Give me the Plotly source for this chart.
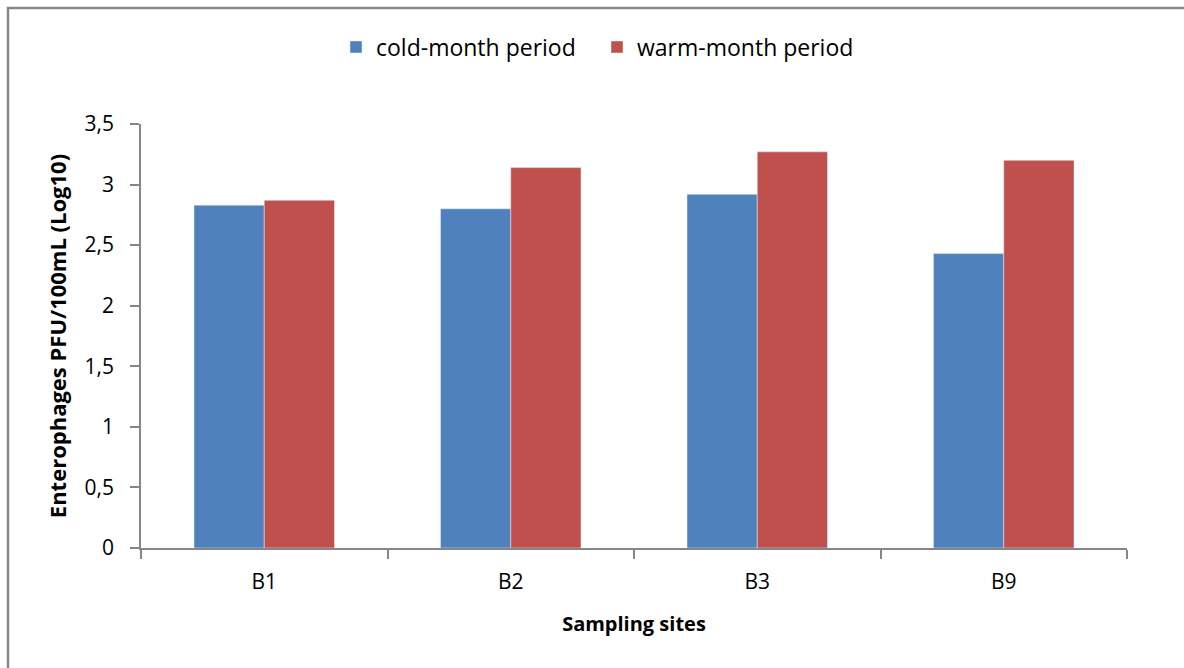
import plotly.graph_objects as go

sites = ["B1", "B2", "B3", "B9"]
cold = [2.83, 2.80, 2.92, 2.43]
warm = [2.87, 3.14, 3.27, 3.20]

W, H = 1184, 668
L, R, T, B = 141, 57, 124, 120
pw, ph = W - L - R, H - T - B

def px_x(x):
    return (x - L) / pw

def px_y(y):
    return (H - B - y) / ph

FONT = "Open Sans, Carlito, Calibri, sans-serif"
AX = "#868686"

fig = go.Figure()
fig.add_trace(go.Bar(x=sites, y=cold, name="cold-month period", marker_color="#4F81BD"))
fig.add_trace(go.Bar(x=sites, y=warm, name="warm-month period", marker_color="#C0504D"))

fig.update_layout(
    width=W, height=H,
    margin=dict(l=L, r=R, t=T, b=B),
    paper_bgcolor="white", plot_bgcolor="white",
    barmode="group", bargap=0.43, bargroupgap=0,
    separators=", ",
    font=dict(family=FONT, size=20, color="black"),
    showlegend=True,
    legend=dict(orientation="h", x=px_x(336), xanchor="left", y=px_y(47), yanchor="middle",
                font=dict(size=23), traceorder="normal", entrywidth=216),
    xaxis=dict(
        showline=True, linecolor=AX, linewidth=1.5,
        ticks="outside", tickson="boundaries", ticklen=9, tickcolor=AX, tickwidth=1.5,
        tickfont=dict(size=21), showgrid=False, ticklabelstandoff=14,
        title=dict(text="<b>Sampling sites</b>", font=dict(size=20), standoff=23),
    ),
    yaxis=dict(
        range=[0, 3.5], dtick=0.5, tick0=0,
        showline=True, linecolor=AX, linewidth=1.5,
        ticks="outside", ticklen=9, tickcolor=AX, tickwidth=1.5,
        tickfont=dict(size=21), showgrid=False, zeroline=False,
        ticklabelstandoff=12,
        title=dict(text="<b>Enterophages PFU/100mL (Log10)</b>", font=dict(size=22), standoff=12),
    ),
)

# outer chart frame: open path along the left and top edges
x_left, x_right = px_x(8), px_x(W + 50)
y_top, y_bottom = px_y(8), px_y(H + 50)
fig.add_shape(type="path", xref="paper", yref="paper",
              path=f"M {x_left},{y_bottom} L {x_left},{y_top} L {x_right},{y_top}",
              line=dict(color=AX, width=2.5), fillcolor="rgba(0,0,0,0)")

fig.write_html("out.html")
